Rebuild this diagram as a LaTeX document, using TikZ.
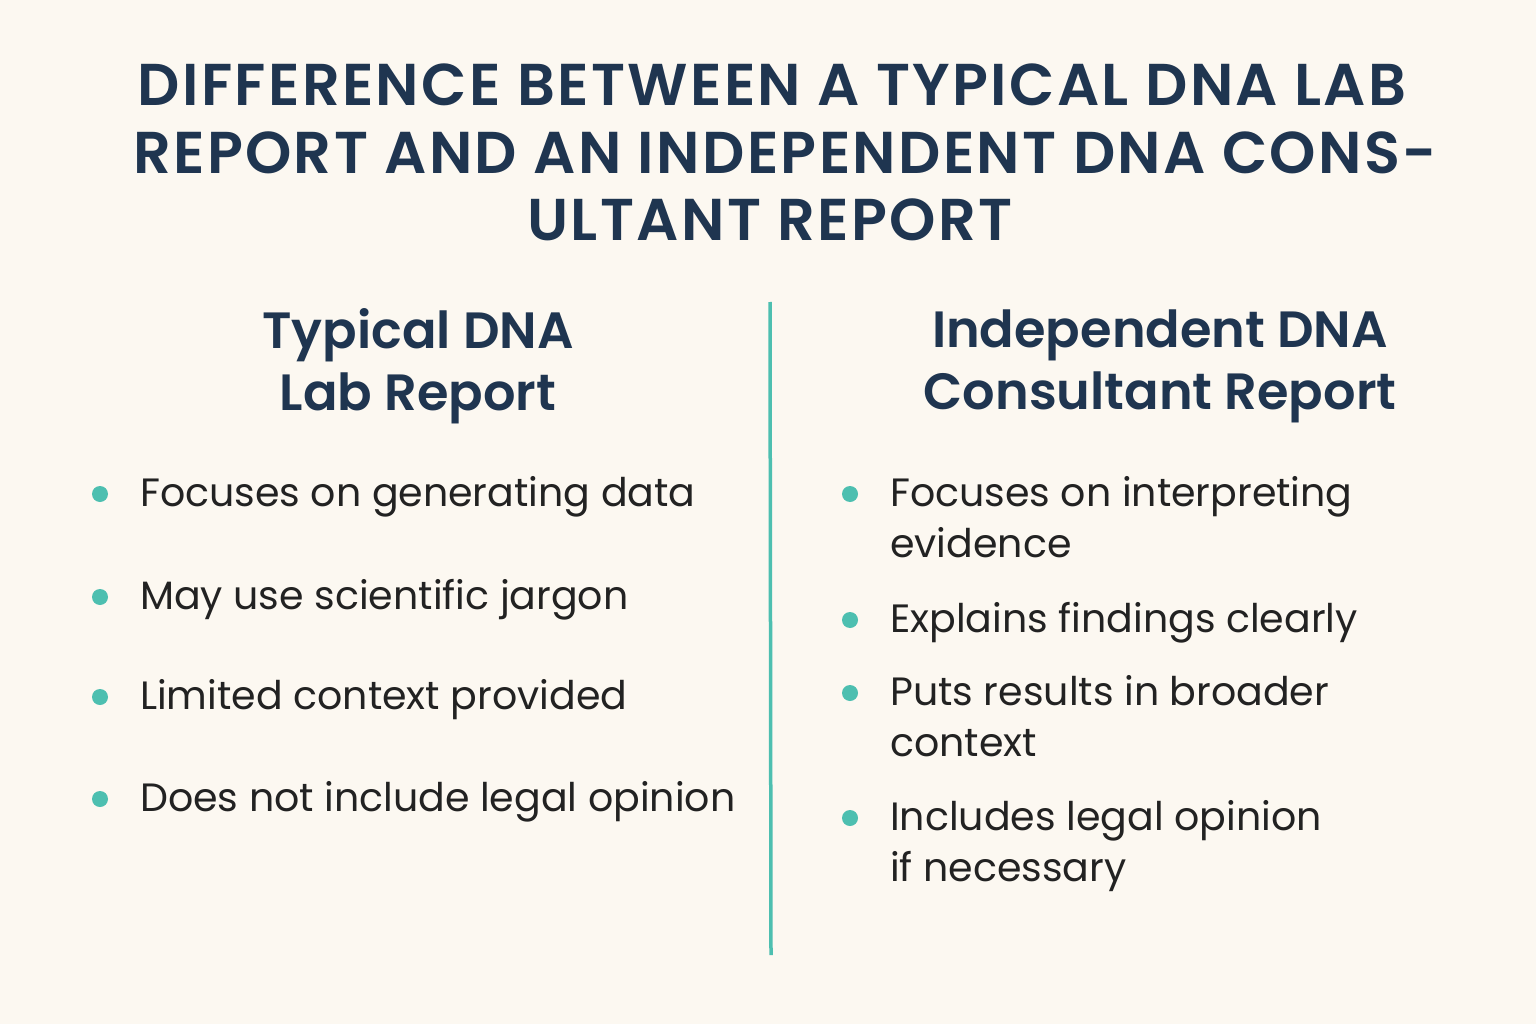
\documentclass[tikz,border=0pt]{standalone}
\usepackage{fontspec}
\setmainfont{Poppins}
\newfontfamily\titlefont[LetterSpace=4]{Poppins SemiBold}
\newfontfamily\headfont{Poppins SemiBold}
\newfontfamily\bodyfont{Poppins}
\definecolor{bg}{HTML}{FCF8F1}
\definecolor{navy}{HTML}{1F3550}
\definecolor{teal}{HTML}{4DBFB0}
\definecolor{ink}{HTML}{222222}
\begin{document}
\begin{tikzpicture}[x=1pt,y=-1pt,
  ttl/.style={text=navy,font=\titlefont\fontsize{59}{59}\selectfont,anchor=center,inner sep=0},
  hd/.style={text=navy,font=\headfont\fontsize{51}{62}\selectfont,align=center,anchor=center,inner sep=0},
  item/.style={text=ink,font=\bodyfont\fontsize{39.5}{51}\selectfont,align=left,anchor=north west,inner sep=0},
  dot/.style={circle,fill=teal,minimum size=16pt,inner sep=0}]
\fill[bg] (0,0) rectangle (1536,1024);
\node[ttl] (t1) at (772,85) {DIFFERENCE BETWEEN A TYPICAL DNA LAB};
\node[ttl] (t2) at (785,153) {REPORT AND AN INDEPENDENT DNA CONS-};
\node[ttl] (t3) at (770,220) {ULTANT REPORT};
\node[hd] (h1) at (418,366) {Typical DNA\\Lab Report};
\node[hd] (h2) at (1160,366) {Independent DNA\\Consultant Report};
\coordinate (dt) at (770,302);
\coordinate (db) at (771,955);
\draw[teal,line width=3.5pt] (dt) -- (db);
\foreach \y/\t [count=\i] in {494/Focuses on generating data,597/May use scientific jargon,697/Limited context provided,799/Does not include legal opinion}{
  \node[dot] (ld\i) at (100,\y) {};
  \node[item] (l\i) at (140,\y-18) {\t};
}
\foreach \y/\t [count=\i] in {494/{Focuses on interpreting\\evidence},620/Explains findings clearly,693/{Puts results in broader\\context},818/{Includes legal opinion\\if necessary}}{
  \node[dot] (rd\i) at (850,\y) {};
  \node[item] (r\i) at (890,\y-18) {\t};
}
\end{tikzpicture}
\end{document}
